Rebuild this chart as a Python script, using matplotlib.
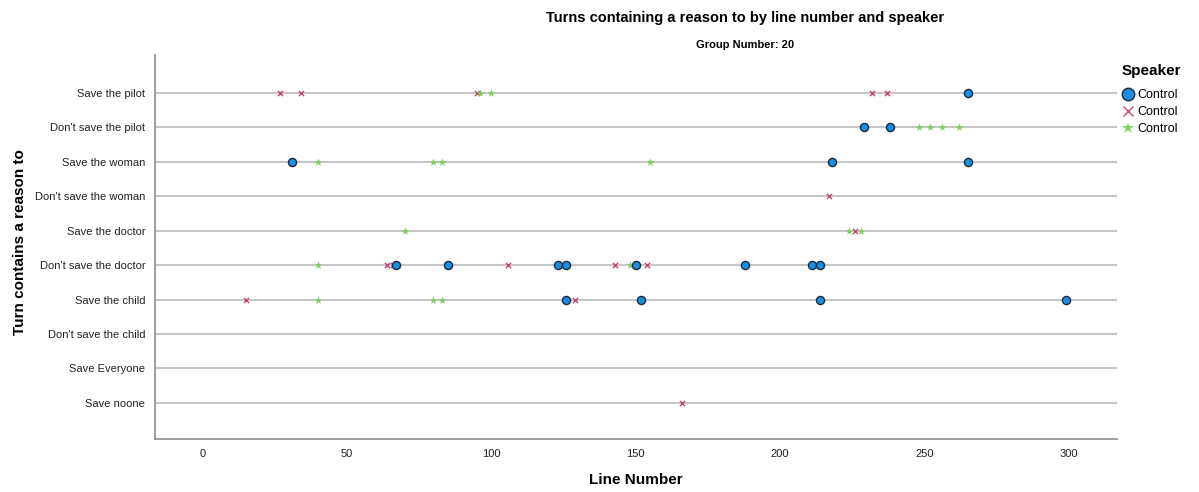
import matplotlib
matplotlib.use("Agg")
import matplotlib.pyplot as plt
from matplotlib.lines import Line2D

plt.rcParams['font.family'] = ['Liberation Sans', 'DejaVu Sans']

# categories, top to bottom
reasons = [
    "Save the pilot", "Don't save the pilot", "Save the woman",
    "Don't save the woman", "Save the doctor", "Don't save the doctor",
    "Save the child", "Don't save the child", "Save Everyone", "Save noone",
]

# line numbers per speaker, keyed by reason
speaker_blue = {
    "Save the pilot": [265],
    "Don't save the pilot": [229, 238],
    "Save the woman": [31, 218, 265],
    "Don't save the doctor": [67, 85, 123, 126, 150, 188, 211, 214],
    "Save the child": [126, 152, 214, 299],
}
speaker_red = {
    "Save the pilot": [27, 34, 95, 232, 237],
    "Don't save the woman": [217],
    "Save the doctor": [226],
    "Don't save the doctor": [64, 66, 106, 143, 154],
    "Save the child": [15, 129],
    "Save noone": [166],
}
speaker_green = {
    "Save the pilot": [96, 100],
    "Don't save the pilot": [248, 252, 256, 262],
    "Save the woman": [40, 80, 83, 155],
    "Save the doctor": [70, 224, 228],
    "Don't save the doctor": [40, 148],
    "Save the child": [40, 80, 83],
}

speaker_labels = ["Control", "Control", "Control"]

BLUE = "#1a8ee0"
RED = "#c4457a"
GREEN = "#7ccf5c"


def flatten(d):
    xs, ys = [], []
    for k, vals in d.items():
        for v in vals:
            xs.append(v)
            ys.append(reasons.index(k))
    return xs, ys


W, H = 1199, 492
fig = plt.figure(figsize=(W / 100, H / 100), dpi=100)
ax = fig.add_axes([155 / W, 1 - 439 / H, (1117 - 155) / W, (439 - 55) / H])

for i in range(len(reasons)):
    ax.axhline(i, color="#c6c6c6", linewidth=1.5, zorder=1)

xr, yr = flatten(speaker_red)
xg, yg = flatten(speaker_green)
xb, yb = flatten(speaker_blue)
ax.scatter(xr, yr, marker="x", s=14, color=RED, linewidths=1.0, zorder=3)
ax.scatter(xg, yg, marker="*", s=36, color=GREEN, linewidths=0, zorder=4)
ax.scatter(xb, yb, marker="o", s=34, facecolor=BLUE, edgecolor="#1b2a3a",
           linewidths=1.0, zorder=5)

ax.set_xlim(-16.4, 316.7)
ax.set_ylim(len(reasons) - 1 + 1.05, -1.1)
ax.set_yticks(range(len(reasons)))
ax.set_yticklabels(reasons, fontsize=8, color="#222222")
ax.set_xticks([0, 50, 100, 150, 200, 250, 300])
ax.tick_params(axis="x", length=0, labelsize=8, labelcolor="#222222", pad=7)
ax.tick_params(axis="y", length=0, pad=7)

for side in ["top", "right"]:
    ax.spines[side].set_visible(False)
for side in ["left", "bottom"]:
    ax.spines[side].set_color("#8c8c8c")
    ax.spines[side].set_linewidth(1.2)

ax.set_xlabel("Line Number", fontsize=11, fontweight="bold")
ax.xaxis.set_label_coords((636 - 155) / (1117 - 155), -(473 - 439) / (439 - 55))
ax.set_ylabel("Turn contains a reason to", fontsize=11, fontweight="bold")
ax.yaxis.set_label_coords(-(155 - 27) / (1117 - 155), (439 - 242) / (439 - 55))

fig.text(745 / W, 1 - 18 / H, "Turns containing a reason to by line number and speaker",
         ha="center", va="center", fontsize=10.5, fontweight="bold")
fig.text(745 / W, 1 - 45 / H, "Group Number: 20",
         ha="center", va="center", fontsize=8, fontweight="bold")

handles = [
    Line2D([], [], linestyle="none", marker="o", markersize=9, markerfacecolor=BLUE,
           markeredgecolor="#1b2a3a", markeredgewidth=1.0),
    Line2D([], [], linestyle="none", marker="x", markersize=6.5, color=RED,
           markeredgewidth=1.0),
    Line2D([], [], linestyle="none", marker="*", markersize=9, color=GREEN,
           markeredgewidth=0),
]
leg = fig.legend(handles, speaker_labels, title="Speaker", loc="upper left",
                 bbox_to_anchor=(1122 / W, 1 - 64 / H), frameon=False,
                 fontsize=9, title_fontsize=11, handletextpad=0.2,
                 handlelength=1.0, labelspacing=0.4, borderaxespad=0,
                 borderpad=0)
leg.get_title().set_fontweight("bold")
leg._legend_box.align = "left"
leg._legend_box._children[0].pad = 0
leg._legend_box.sep = 8

fig.savefig("out.png", dpi=100)
